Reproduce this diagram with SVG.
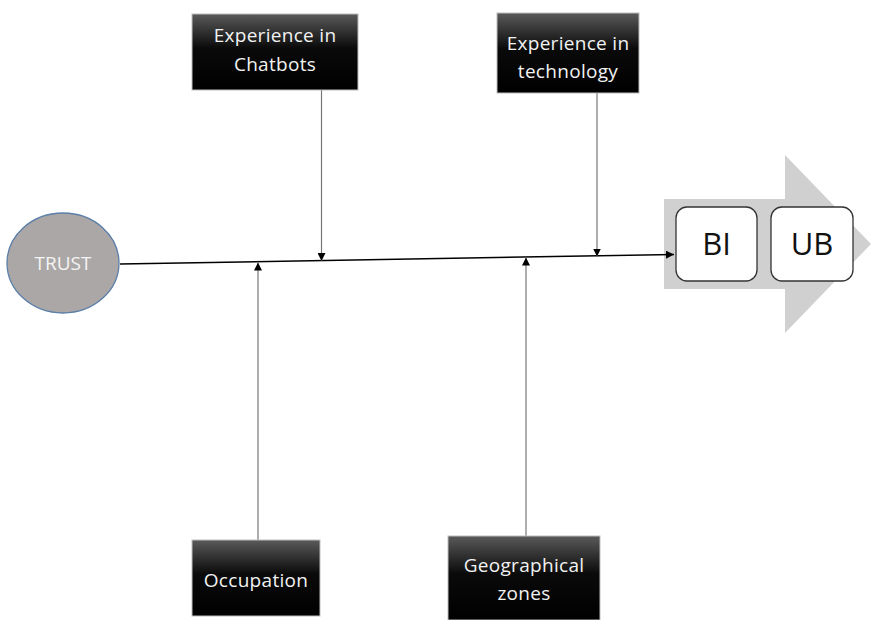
<svg xmlns="http://www.w3.org/2000/svg" width="871" height="620" viewBox="0 0 871 620">
  <defs>
    <linearGradient id="boxFill" x1="0" y1="0" x2="0" y2="1">
      <stop offset="0" stop-color="#5a5a5a"/>
      <stop offset="0.45" stop-color="#0a0a0a"/>
      <stop offset="1" stop-color="#000"/>
    </linearGradient>
    <marker id="tip" viewBox="0 0 10 10" refX="10" refY="5" markerWidth="8" markerHeight="8" markerUnits="userSpaceOnUse" orient="auto">
      <path d="M0,0 L10,5 L0,10 z" fill="#000"/>
    </marker>
  </defs>
  <style>
    .box { fill: url(#boxFill); stroke: #bdbdbd; stroke-width: 1; }
    .boxText { fill: #f2f2f2; font-family: "Open Sans", "Liberation Sans", sans-serif; font-size: 19px; text-anchor: middle; letter-spacing: 0.3px; }
    .feed { stroke: #777; stroke-width: 1.2; fill: none; }
    .stage { fill: #fff; stroke: #333; stroke-width: 1.3; }
    .stageText { fill: #111; font-family: "Open Sans", "Liberation Sans", sans-serif; font-size: 31px; text-anchor: middle; }
  </style>

  <rect width="871" height="620" fill="#fff"/>

  <!-- outcome arrow with stages -->
  <g id="outcome">
    <polygon points="664,199 785,199 785,155 871,244 785,333 785,289 664,289" fill="#d0d0d0"/>
  </g>
  <g id="bi">
    <rect class="stage" x="676" y="207" width="81" height="74" rx="11"/>
    <text class="stageText" x="716.5" y="255">BI</text>
  </g>
  <g id="ub">
    <rect class="stage" x="771" y="207" width="82" height="74" rx="11"/>
    <text class="stageText" x="812" y="255">UB</text>
  </g>

  <!-- connectors -->
  <g id="connectors">
    <line x1="120" y1="264" x2="674" y2="254.5" stroke="#000" stroke-width="1.5" marker-end="url(#tip)"/>
    <line class="feed" x1="321.5" y1="90" x2="321.5" y2="261" marker-end="url(#tip)"/>
    <line class="feed" x1="597" y1="93" x2="597" y2="256.5" marker-end="url(#tip)"/>
    <line class="feed" x1="258" y1="540" x2="258" y2="262.5" marker-end="url(#tip)"/>
    <line class="feed" x1="526" y1="536" x2="526" y2="257.5" marker-end="url(#tip)"/>
  </g>

  <!-- source -->
  <g id="trust">
    <ellipse cx="63" cy="263" rx="56" ry="50" fill="#aba7a7" stroke="#5b7fa8" stroke-width="1.3"/>
    <text x="63" y="270" fill="#f4f4f4" font-family="'Open Sans', 'Liberation Sans', sans-serif" font-size="19" text-anchor="middle">TRUST</text>
  </g>

  <!-- contributing factors -->
  <g id="exp-chatbots">
    <rect class="box" x="192" y="14" width="166" height="76"/>
    <text class="boxText" x="275" y="42">Experience in</text>
    <text class="boxText" x="275" y="71">Chatbots</text>
  </g>
  <g id="exp-technology">
    <rect class="box" x="497" y="13" width="142" height="80"/>
    <text class="boxText" x="568" y="50">Experience in</text>
    <text class="boxText" x="568" y="78">technology</text>
  </g>
  <g id="occupation">
    <rect class="box" x="192" y="540" width="128" height="76"/>
    <text class="boxText" x="256" y="587">Occupation</text>
  </g>
  <g id="geo-zones">
    <rect class="box" x="448" y="536" width="152" height="84"/>
    <text class="boxText" x="524" y="572">Geographical</text>
    <text class="boxText" x="524" y="600">zones</text>
  </g>
</svg>
